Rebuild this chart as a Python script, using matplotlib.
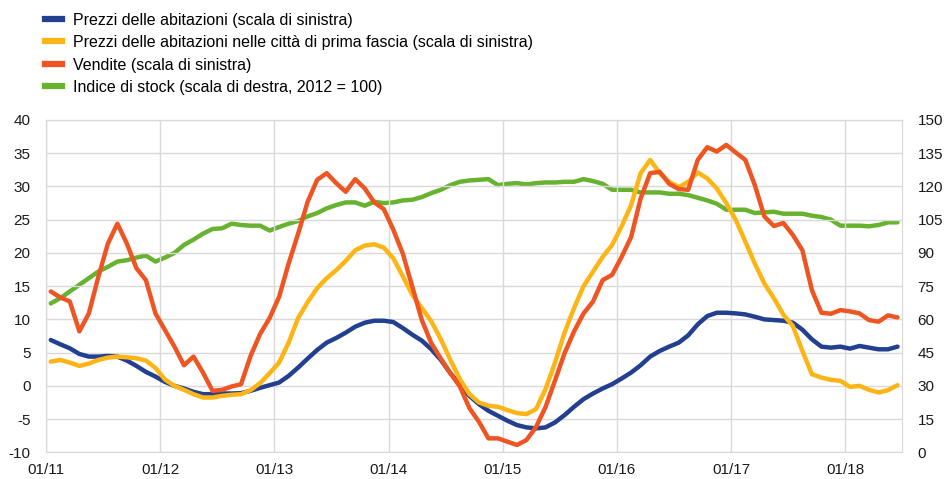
import numpy as np
import matplotlib.pyplot as plt
from matplotlib.lines import Line2D

# monthly observations, 01/2011 - 06/2018
prezzi = [6.9, 6.25, 5.65, 4.8, 4.4, 4.4, 4.5, 4.4, 3.8, 3.0, 2.1, 1.4, 0.6, 0.0, -0.4, -0.9, -1.25, -1.25, -1.15, -1.15, -1.1, -0.75, -0.3, 0.1,
          0.5, 1.5, 2.75, 4.1, 5.4, 6.5, 7.2, 8.0, 8.9, 9.5, 9.8, 9.8, 9.6, 8.7, 7.7, 6.8, 5.5, 3.9, 1.9, 0.2, -1.5, -2.75, -3.75,
          -4.5, -5.25, -5.9, -6.25, -6.4, -6.25, -5.5, -4.4, -3.15, -2.0, -1.15, -0.4, 0.25, 1.1, 2.0, 3.1, 4.4, 5.25, 5.9, 6.5, 7.6, 9.25, 10.5,
          11.0, 11.0, 10.9, 10.75, 10.4, 10.0, 9.9, 9.8, 9.5, 8.45, 7.0, 5.9, 5.75, 5.9, 5.6, 6.0, 5.75, 5.5, 5.5, 5.9]
prezzi_prima = [3.65, 3.9, 3.5, 3.0, 3.35, 3.9, 4.25, 4.4, 4.3, 4.15, 3.8, 2.7, 0.95, 0.0, -0.6, -1.25, -1.75, -1.75, -1.5, -1.35, -1.25, -0.65, 0.4, 1.9,
                3.5, 6.5, 10.2, 12.6, 14.7, 16.2, 17.4, 18.8, 20.4, 21.1, 21.3, 20.8, 19.2, 16.5, 13.7, 11.7, 9.7, 7.0, 3.9, 1.0, -1.25, -2.5, -3.0,
                -3.15, -3.65, -4.1, -4.25, -3.5, -0.5, 3.5, 8.0, 11.7, 15.0, 17.2, 19.4, 21.2, 24.0, 27.2, 32.0, 34.0, 32.0, 30.7, 29.9, 30.7, 32.1, 31.2,
                29.7, 27.5, 24.95, 21.7, 18.4, 15.4, 13.2, 10.7, 9.0, 5.25, 1.75, 1.25, 0.9, 0.75, -0.15, 0.0, -0.6, -1.0, -0.65, 0.1]
vendite = [14.2, 13.3, 12.7, 8.2, 10.9, 16.4, 21.4, 24.4, 21.4, 17.7, 15.9, 10.9, 8.4, 5.9, 3.1, 4.4, 2.0, -0.75, -0.6, -0.1, 0.25, 4.5, 7.8, 10.2,
           13.4, 18.4, 22.9, 27.7, 31.0, 32.0, 30.5, 29.2, 31.1, 29.7, 27.6, 26.6, 23.5, 19.9, 14.9, 9.9, 6.4, 4.1, 1.9, -0.1, -3.35, -5.4, -7.9,
           -7.9, -8.4, -8.9, -8.15, -6.2, -3.2, 0.8, 4.9, 8.2, 10.9, 12.7, 15.9, 16.7, 19.4, 22.4, 28.2, 32.0, 32.2, 30.4, 29.6, 29.5, 34.0, 35.9,
           35.25, 36.25, 35.1, 34.0, 30.2, 25.5, 24.05, 24.5, 22.7, 20.4, 14.4, 11.0, 10.85, 11.4, 11.2, 10.9, 9.9, 9.65, 10.6, 10.3]
stock = [67.2, 69.6, 72.6, 75.6, 78.6, 81.6, 83.7, 86.1, 86.7, 87.9, 88.8, 86.1, 87.9, 90.0, 93.6, 96.0, 98.7, 100.8, 101.1, 103.2, 102.6, 102.3, 102.3, 100.1,
         101.7, 103.2, 104.4, 106.5, 108.0, 110.1, 111.6, 112.8, 112.8, 111.3, 113.1, 112.5, 112.8, 113.7, 114.0, 115.2, 117.0, 118.5, 120.6, 122.1, 122.7, 123.0, 123.3,
         120.6, 121.2, 121.5, 120.9, 121.5, 121.8, 121.8, 122.1, 122.1, 123.3, 122.4, 121.2, 118.5, 118.5, 118.5, 117.3, 117.3, 117.3, 116.7, 116.7, 116.1, 114.9, 113.7,
         112.2, 109.5, 109.5, 109.5, 108.0, 108.3, 108.6, 107.7, 107.7, 107.7, 106.8, 106.2, 105.0, 102.3, 102.3, 102.3, 102.0, 102.6, 103.8, 103.8]
year_labels = ['01/11', '01/12', '01/13', '01/14', '01/15', '01/16', '01/17', '01/18']
labels = ['Prezzi delle abitazioni (scala di sinistra)',
          'Prezzi delle abitazioni nelle città di prima fascia (scala di sinistra)',
          'Vendite (scala di sinistra)',
          'Indice di stock (scala di destra, 2012 = 100)']
colors = ['#233F8F', '#FDB515', '#EE5522', '#67B22F']

plt.rcParams['font.family'] = ['Liberation Sans', 'DejaVu Sans']
plt.rcParams['axes.unicode_minus'] = False

x = np.arange(len(prezzi)) + 0.5  # months since 01/11, mid-month

fig = plt.figure(figsize=(9.45, 4.79), dpi=100)
ax = fig.add_axes([0.0487, 0.0557, 0.9061, 0.6938])
ax2 = ax.twinx()
ax.set_zorder(ax2.get_zorder() + 1)
ax.patch.set_visible(False)

lw = 3.2
ax.plot(x, prezzi, color=colors[0], lw=lw, solid_capstyle='round')
ax.plot(x, prezzi_prima, color=colors[1], lw=lw, solid_capstyle='round')
ax.plot(x, vendite, color=colors[2], lw=lw, solid_capstyle='round')
ax2.plot(x, stock, color=colors[3], lw=lw, solid_capstyle='round')

ax.set_xlim(0, 90)
ax.set_ylim(-10, 40)
ax2.set_ylim(0, 150)
ax.set_yticks(np.arange(-10, 41, 5))
ax2.set_yticks(np.arange(0, 151, 15))
ax.set_xticks(np.arange(0, 90, 12))
ax.set_xticklabels(year_labels)

ax.grid(True, color='#D9D9D9', lw=1)
ax.set_axisbelow(True)
for a in (ax, ax2):
    for s in a.spines.values():
        s.set_color('#D9D9D9')
    a.tick_params(length=0, labelsize=11, colors='#1A1A1A')
ax.tick_params(axis='y', pad=11)
ax.tick_params(axis='x', pad=8)
ax2.tick_params(axis='y', pad=11)

handles = [Line2D([], [], color=c, lw=4.5) for c in colors]
fig.legend(handles, labels, loc='upper left', bbox_to_anchor=(45 / 945, 1 - 12.5 / 479),
           frameon=False, handlelength=1.05, handletextpad=0.7,
           labelspacing=0.47, fontsize=11.5, borderaxespad=0, borderpad=0)

fig.savefig('out.png', dpi=100)
